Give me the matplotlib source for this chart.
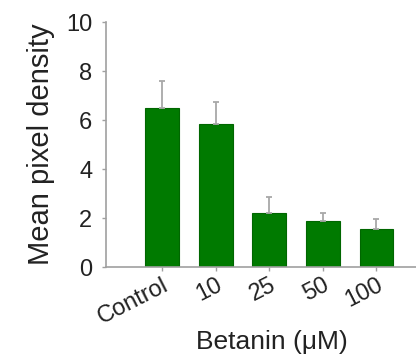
import matplotlib
matplotlib.use('Agg')
import matplotlib.pyplot as plt
import numpy as np

# Data
categories = ['Control', '10', '25', '50', '100']
means = [6.5, 5.82, 2.2, 1.88, 1.55]
errors = [1.1, 0.93, 0.66, 0.32, 0.41]

plt.rcParams['font.family'] = ['Liberation Sans', 'DejaVu Sans']

fig = plt.figure(figsize=(4.16, 3.61), dpi=100)
ax = fig.add_axes([0.255, 0.26, 0.798, 0.679])

x = np.arange(len(categories))
ax.bar(x, means, width=0.63, color='#007a00', edgecolor='#006600', linewidth=0.8,
       yerr=[np.zeros(len(errors)), errors],
       error_kw=dict(ecolor='#a8a8a8', elinewidth=1.3, capsize=2.5, capthick=1.3))

ax.set_xlim(-1.045, 5.15)
ax.set_ylim(0, 10)
ax.set_yticks([0, 2, 4, 6, 8, 10])
ax.set_xticks(x)
ax.set_xticklabels(categories, rotation=27, ha='right', rotation_mode='anchor')

for side in ['top', 'right']:
    ax.spines[side].set_visible(False)
for side in ['left', 'bottom']:
    ax.spines[side].set_color('#a0a0a0')
    ax.spines[side].set_linewidth(1.2)

ax.tick_params(axis='both', colors='#a0a0a0', length=3, width=1, labelsize=17,
               labelcolor='#222222')
ax.tick_params(axis='y', pad=7)
ax.tick_params(axis='x', pad=2)

ax.set_ylabel('Mean pixel density', fontsize=21, color='#222222')
ax.set_xlabel('Betanin (\u03bcM)', fontsize=19, color='#222222')
ax.yaxis.set_label_coords(-0.155, 0.5)
ax.xaxis.set_label_coords(0.5, -0.255)

fig.savefig('out.png', dpi=100)
